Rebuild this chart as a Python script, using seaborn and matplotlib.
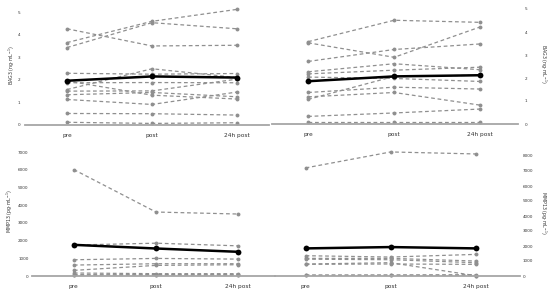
import pandas as pd
import seaborn as sns
import matplotlib.pyplot as plt

times = ["pre", "post", "24h post"]

# BAG3, left panel (ng/mL), one row per subject: pre, post, 24h post
bag3_left = [
    [4.26, 3.50, 3.53],
    [3.65, 4.59, 5.12],
    [3.43, 4.53, 4.26],
    [2.29, 2.25, 2.28],
    [1.57, 2.49, 2.10],
    [1.87, 1.88, 1.87],
    [1.50, 1.51, 2.03],
    [1.34, 1.44, 1.25],
    [1.13, 0.91, 1.46],
    [0.51, 0.50, 0.44],
    [0.12, 0.07, 0.10],
    [1.95, 1.32, 1.15],
]
bag3_left_mean = [1.96, 2.15, 2.10]

# BAG3, right panel
bag3_right = [
    [3.58, 4.51, 4.42],
    [3.53, 2.90, 4.22],
    [2.72, 3.24, 3.48],
    [2.27, 2.62, 2.36],
    [2.18, 2.34, 2.47],
    [2.04, 1.98, 1.85],
    [1.37, 1.60, 1.52],
    [1.18, 1.37, 0.82],
    [1.07, 2.07, 2.12],
    [0.33, 0.48, 0.65],
    [0.10, 0.10, 0.10],
]
bag3_right_mean = [1.86, 2.07, 2.12]

# MMP13, left panel (pg/mL)
mmp13_left = [
    [6011, 3614, 3502],
    [1750, 1854, 1704],
    [918, 993, 955],
    [618, 693, 693],
    [318, 600, 637],
    [169, 131, 131],
    [75, 56, 75],
    [40, 80, 50],
]
mmp13_left_mean = [1760, 1554, 1367]

# MMP13, right panel
mmp13_right = [
    [7206, 8270, 8137],
    [1352, 1264, 1441],
    [1175, 1175, 998],
    [1120, 1086, 887],
    [798, 887, 20],
    [780, 800, 776],
    [66, 66, 89],
    [40, 50, 30],
]
mmp13_right_mean = [1840, 1929, 1840]


def to_long(rows):
    recs = []
    for i, r in enumerate(rows):
        for t, v in zip(times, r):
            recs.append({"subject": i, "time": t, "value": v})
    return pd.DataFrame(recs)


sns.set_theme(style="white")
plt.rcParams["font.family"] = ["DejaVu Sans"]

fig = plt.figure(figsize=(5.5, 2.91), dpi=100)
W, H = 550.0, 291.0

# data, mean, left/right px, zero/top px, ylim top, xlim, yticks, tick side, label, label x, ytick pad
panels = [
    (bag3_left, bag3_left_mean, 24.5, 269.3, 125, 5.3, 5.3, (-0.5, 2.38), range(0, 6), "left",
     "BAG3 (ng·mL$^{-1}$)", -0.05, 3.0),
    (bag3_right, bag3_right_mean, 272, 518, 124, 4.4, 5.2, (-0.42, 2.44), range(0, 6), "right",
     "BAG3 (ng·mL$^{-1}$)", 1.103, 5.0),
    (mmp13_left, mmp13_left_mean, 32, 275, 276, 146.8, 7300, (-0.51, 2.45), range(0, 8000, 1000), "left",
     "MMP13 (pg·mL$^{-1}$)", -0.09, 2.5),
    (mmp13_right, mmp13_right_mean, 275, 520, 276, 150, 8400, (-0.36, 2.52), range(0, 9000, 1000), "right",
     "MMP13 (pg·mL$^{-1}$)", 1.094, 2.0),
]

for rows, mean, x0, x1, y0, y1, ytop, xlim, yticks, side, label, lx, ypad in panels:
    ax = fig.add_axes([x0 / W, 1 - y0 / H, (x1 - x0) / W, (y0 - y1) / H])
    df = to_long(rows)
    sns.lineplot(data=df, x="time", y="value", units="subject", estimator=None,
                 color="#8f8f8f", lw=0.9, marker="o", markersize=2.8,
                 markeredgewidth=0, ax=ax, legend=False)
    for ln in ax.lines:
        ln.set_linestyle((0, (3.0, 2.2)))
    mdf = pd.DataFrame({"time": times, "value": mean})
    sns.lineplot(data=mdf, x="time", y="value", color="black", lw=1.8,
                 marker="o", markersize=4.2, markeredgewidth=0, ax=ax, legend=False)
    for ln in ax.lines:
        ln.set_clip_on(False)
    ax.set_xlim(*xlim)
    ax.set_ylim(0, ytop)
    ax.set_yticks(list(yticks))
    ax.set_xlabel("")
    ax.set_ylabel(label, fontsize=3.4, color="#333333")
    ax.yaxis.set_label_position(side)
    if side == "right":
        ax.yaxis.tick_right()
        ax.yaxis.label.set_rotation(270)
    ax.yaxis.label.set_va("center")
    ax.yaxis.set_label_coords(lx, 0.5)
    ax.tick_params(axis="both", length=0, colors="#333333")
    ax.tick_params(axis="x", pad=5.5, labelsize=4.2)
    ax.tick_params(axis="y", pad=ypad, labelsize=3.0)
    for s in ["left", "right", "top"]:
        ax.spines[s].set_visible(False)
    ax.spines["bottom"].set_color("#a6a6a6")
    ax.spines["bottom"].set_linewidth(1.3)
    ax.patch.set_alpha(0)

fig.savefig("out.png", dpi=100)
